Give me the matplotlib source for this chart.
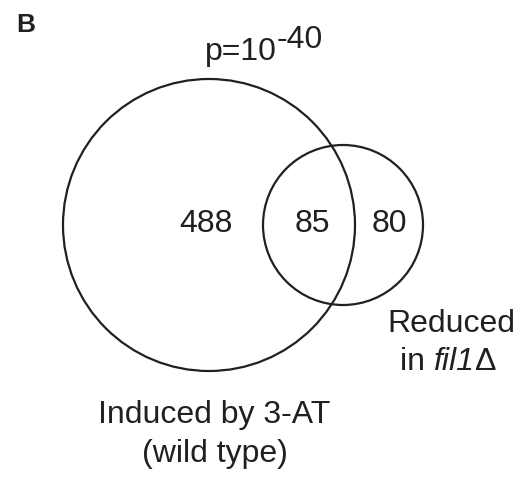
import matplotlib.pyplot as plt
from matplotlib.patches import Circle

plt.rcParams['font.family'] = ['Liberation Sans', 'DejaVu Sans']

# Venn data
label_a = ['Induced by 3-AT', '(wild type)']
label_b = ['Reduced', 'in ', 'fil1', 'Δ']
only_a = 488
both = 85
only_b = 80
p_exp = '-40'

ink = '#231f20'
fs = 23

fig = plt.figure(figsize=(5.24, 4.78), dpi=100)
ax = fig.add_axes([0, 0, 1, 1])
ax.set_xlim(0, 524)
ax.set_ylim(478, 0)
ax.set_aspect('equal')
ax.axis('off')

# circles (pixel layout)
ax.add_patch(Circle((209, 225), 146, fill=False, lw=1.6, color=ink))
ax.add_patch(Circle((343, 225), 80, fill=False, lw=1.6, color=ink))

# region counts
ax.text(206, 232, str(only_a), ha='center', va='baseline', fontsize=fs, color=ink)
ax.text(312, 232, str(both), ha='center', va='baseline', fontsize=fs, color=ink)
ax.text(389, 232, str(only_b), ha='center', va='baseline', fontsize=fs, color=ink)

# p-value with raised exponent
ax.text(277, 60, 'p=10', ha='right', va='baseline', fontsize=fs, color=ink)
ax.text(277, 48, p_exp, ha='left', va='baseline', fontsize=fs, color=ink)

ax.text(16, 32, 'B', ha='left', va='baseline', fontsize=19, fontweight='bold', color=ink)

# set labels
ax.text(214, 423, label_a[0], ha='center', va='baseline', fontsize=fs, color=ink)
ax.text(215, 462, label_a[1], ha='center', va='baseline', fontsize=fs, color=ink)
ax.text(451, 332, label_b[0], ha='center', va='baseline', fontsize=fs, color=ink)

# "in fil1Δ" with italic gene name, chained piece by piece
t1 = ax.text(400, 370, label_b[1], ha='left', va='baseline', fontsize=fs, color=ink)
t2 = ax.annotate(label_b[2], xy=(1, 0), xycoords=t1, ha='left', va='bottom',
                 fontsize=fs, color=ink, style='italic')
ax.annotate(label_b[3], xy=(1, 0), xycoords=t2, ha='left', va='bottom',
            fontsize=fs, color=ink)

fig.savefig('out.png', dpi=100)
